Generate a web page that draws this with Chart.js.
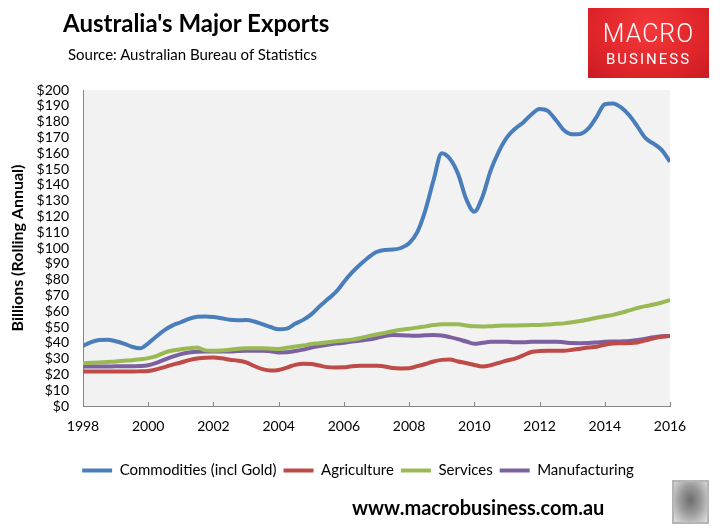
<!DOCTYPE html>
<html>
<head>
<meta charset="utf-8">
<script src="https://cdn.jsdelivr.net/npm/chart.js@4.4.0/dist/chart.umd.min.js"></script>
<style>
  body { margin: 0; background: #fff; }
  #wrap { position: relative; width: 720px; height: 531px; overflow: hidden; font-family: Lato, sans-serif; }
  #wrap canvas { position: absolute; left: 0; top: 0; }
  .txt { position: absolute; white-space: nowrap; color: #000; }
  #title { left: 63px; top: 8px; font-size: 24px; font-weight: bold; line-height: 29px; }
  #source { left: 68px; top: 45px; font-size: 15px; line-height: 18px; }
  #footer { left: 352px; top: 495px; font-size: 20px; font-weight: bold; line-height: 24px; }
  #logo { position: absolute; left: 588px; top: 8px; width: 121px; height: 70px;
          background: radial-gradient(ellipse at 50% 30%, #f5383b 0%, #e0262b 60%, #c91c22 100%);
          color: #fff; text-align: center; font-family: Roboto, sans-serif; }
  #logo .m { font-size: 25px; font-weight: 300; letter-spacing: 1px; margin-top: 13px; line-height: 26px; }
  #logo .b { font-size: 15px; font-weight: 400; letter-spacing: 2px; line-height: 16px; margin-top: 4px; }
  #wolf { position: absolute; left: 672px; top: 480px; width: 33px; height: 40px; border: 2px solid #b5b5b5;
          background: radial-gradient(ellipse at 50% 45%, #6d6d6d 0%, #9a9a9a 45%, #e2e2e2 100%); }
</style>
</head>
<body>
<div id="wrap">
  <canvas id="chart" width="720" height="531"></canvas>
  <div class="txt" id="title">Australia's Major Exports</div>
  <div class="txt" id="source">Source: Australian Bureau of Statistics</div>
  <div id="logo"><div class="m">MACRO</div><div class="b">BUSINESS</div></div>
  <div class="txt" id="footer">www.macrobusiness.com.au</div>
  <div id="wolf"></div>
</div>
<script>
// quarterly points, 1998 to 2016, billions rolling annual
var years = [
  1998, 1998.25, 1998.5, 1998.75, 1999, 1999.25, 1999.5, 1999.75,
  2000, 2000.25, 2000.5, 2000.75, 2001, 2001.25, 2001.5, 2001.75,
  2002, 2002.25, 2002.5, 2002.75, 2003, 2003.25, 2003.5, 2003.75,
  2004, 2004.25, 2004.5, 2004.75, 2005, 2005.25, 2005.5, 2005.75,
  2006, 2006.25, 2006.5, 2006.75, 2007, 2007.25, 2007.5, 2007.75,
  2008, 2008.25, 2008.5, 2008.75, 2009, 2009.25, 2009.5, 2009.75,
  2010, 2010.25, 2010.5, 2010.75, 2011, 2011.25, 2011.5, 2011.75,
  2012, 2012.25, 2012.5, 2012.75, 2013, 2013.25, 2013.5, 2013.75,
  2014, 2014.25, 2014.5, 2014.75, 2015, 2015.25, 2015.5, 2015.75,
  2016
];

var commodities = [
  38, 40.5, 41.8, 42, 41, 39.5, 37.5, 36.5,
  39.7, 44, 48, 51, 53, 55.2, 56.5, 56.7,
  56.3, 55.5, 54.6, 54.3, 54.4, 53.5, 51.8, 50,
  48.6, 49, 52, 54.5, 58, 63, 67.5, 72,
  78.5, 84.5, 89.5, 94, 97.5, 98.8, 99, 100,
  103, 110, 124, 143, 160, 156.5, 147, 131,
  123, 132.5, 149, 161, 170, 175.5, 179.5, 184.5,
  188, 186.8, 181, 174.5, 172, 172.2, 175.7, 183,
  191, 191.5, 189, 184, 177, 169.5, 166, 162,
  154.6
];

var agriculture = [
  21.8, 21.8, 21.8, 21.8, 21.8, 21.8, 21.8, 22,
  22.2, 23.2, 24.6, 26.2, 27.5, 29, 30, 30.6,
  30.7, 30.2, 29.3, 28.7, 27.6, 25.3, 23.3, 22.4,
  22.8, 24.3, 26, 26.8, 26.6, 25.6, 24.6, 24.4,
  24.5, 25.2, 25.5, 25.5, 25.4, 25, 24, 23.8,
  23.9, 25.2, 26.6, 28.2, 29.2, 29.5, 28.2, 27.2,
  26, 25, 25.8, 27.3, 28.8, 30, 32, 34.2,
  34.8, 35, 35, 35, 35.6, 36.3, 37, 37.5,
  38.8, 39.5, 39.7, 39.8, 40.2, 41.5, 42.8, 43.8,
  44.3
];

var services = [
  27, 27.3, 27.6, 27.9, 28.2, 28.6, 29, 29.6,
  30.3, 31.6, 33.8, 35.1, 35.9, 36.5, 37, 35.2,
  35, 35.1, 35.6, 36.3, 36.5, 36.5, 36.5, 36.3,
  36, 36.9, 37.6, 38.3, 39.2, 39.7, 40.4, 41,
  41.5, 42, 43, 44.2, 45.2, 46.3, 47.3, 48.2,
  48.9, 49.6, 50.4, 51.2, 51.7, 51.7, 51.7, 51,
  50.4, 50.3, 50.5, 50.8, 50.9, 51, 51.1, 51.2,
  51.3, 51.6, 52, 52.3, 53, 53.8, 54.8, 55.8,
  56.8, 57.7, 59, 60.5, 62, 63.2, 64.2, 65.5,
  67
];

var manufacturing = [
  25, 25, 25, 25, 25.1, 25.1, 25.2, 25.3,
  25.8, 27.3, 29.3, 31.2, 32.8, 33.8, 34.4, 34.5,
  34.5, 34.5, 34.5, 34.8, 35, 35, 34.9, 34.6,
  33.9, 34, 34.8, 35.7, 37, 38, 38.8, 39.5,
  40, 40.8, 41.4, 42, 43, 44.3, 44.9, 44.8,
  44.6, 44.4, 44.8, 44.9, 44.6, 43.6, 42.3, 40.8,
  39.4, 40, 40.6, 40.7, 40.6, 40.3, 40.3, 40.6,
  40.7, 40.7, 40.7, 40.3, 39.8, 39.7, 39.8, 40.2,
  40.7, 40.8, 40.9, 41.1, 41.8, 42.6, 43.5, 44.2,
  44.3
];

var seriesNames = ['Commodities (incl Gold)', 'Agriculture', 'Services', 'Manufacturing'];
var seriesColors = ['#4a7ebb', '#be4b48', '#98b954', '#7d60a0'];
var seriesData = [commodities, agriculture, services, manufacturing];

function toPoints(values) {
  return values.map(function(v, i){ return {x: years[i], y: v}; });
}

var plotBg = {
  id: 'plotBg',
  afterLayout: function(chart){
    // centre the legend on the page rather than on the plot width
    if (chart.legend) chart.legend.right = 716;
  },
  beforeDraw: function(chart){
    var a = chart.chartArea, ctx = chart.ctx;
    ctx.save();
    ctx.fillStyle = '#f2f2f2';
    ctx.fillRect(a.left, a.top, a.right - a.left, a.bottom - a.top);
    ctx.restore();
  },
  beforeDatasetsDraw: function(chart){
    // excel style tick marks pointing inside the plot
    var xs = chart.scales.x, ctx = chart.ctx, bottom = chart.chartArea.bottom;
    ctx.save();
    ctx.strokeStyle = '#868686';
    ctx.lineWidth = 1;
    xs.ticks.forEach(function(t){
      var px = Math.round(xs.getPixelForValue(t.value)) + 0.5;
      ctx.beginPath();
      ctx.moveTo(px, bottom);
      ctx.lineTo(px, bottom - 4);
      ctx.stroke();
    });
    ctx.restore();
  }
};

var datasets = seriesNames.map(function(name, i){
  return {
    label: name,
    data: toPoints(seriesData[i]),
    borderColor: seriesColors[i],
    backgroundColor: seriesColors[i],
    borderWidth: 4,
    pointRadius: 0,
    cubicInterpolationMode: 'monotone',
    fill: false
  };
});

Chart.defaults.font.family = 'Lato, sans-serif';
Chart.defaults.color = '#000';

new Chart(document.getElementById('chart').getContext('2d'), {
  type: 'line',
  data: { datasets: datasets },
  options: {
    responsive: false,
    animation: false,
    layout: { padding: { top: 90, left: 0, right: 50, bottom: 43 } },
    plugins: {
      legend: {
        position: 'bottom',
        labels: {
          usePointStyle: true,
          pointStyle: 'line',
          pointStyleWidth: 30,
          boxHeight: 14,
          padding: 7,
          font: { size: 15 },
          color: '#000'
        }
      },
      tooltip: { enabled: false }
    },
    scales: {
      x: {
        type: 'linear',
        min: 1998,
        max: 2016,
        afterFit: function(scale){ scale.height = 50; },
        ticks: {
          stepSize: 2,
          padding: 12,
          font: { size: 14 },
          color: '#000',
          callback: function(v){ return String(v); }
        },
        grid: { drawOnChartArea: false, drawTicks: false },
        border: { color: '#868686', width: 1 }
      },
      y: {
        min: 0,
        max: 200,
        afterFit: function(scale){ scale.width = 83; },
        ticks: {
          stepSize: 10,
          autoSkip: false,
          padding: 14,
          font: { size: 14 },
          color: '#000',
          callback: function(v){ return '$' + v; }
        },
        grid: { drawOnChartArea: false, drawTicks: false },
        border: { color: '#868686', width: 1 },
        title: {
          display: true,
          text: 'Billions (Rolling Annual)',
          font: { size: 16, weight: 'bold' },
          color: '#000',
          padding: { top: 8, bottom: 0 }
        }
      }
    }
  },
  plugins: [plotBg]
});
</script>
</body>
</html>
